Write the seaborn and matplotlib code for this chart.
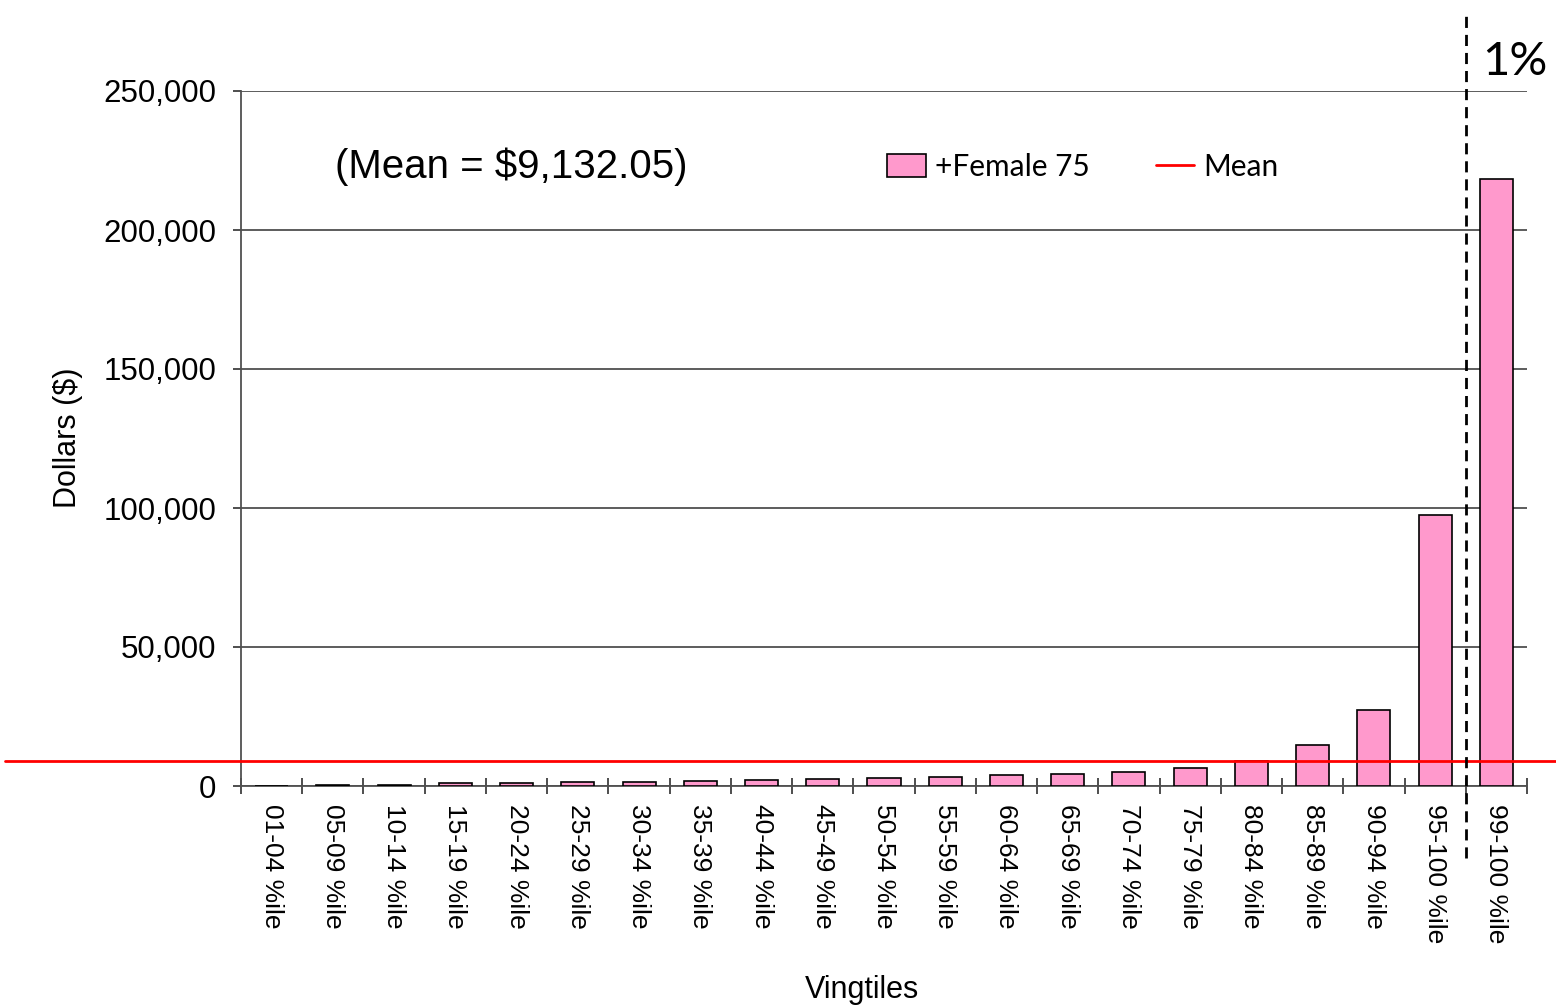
import matplotlib
matplotlib.use('Agg')
import matplotlib.pyplot as plt
import seaborn as sns
import pandas as pd
from matplotlib.patches import Patch
from matplotlib.lines import Line2D

# --- данные ---
vingtiles = ['01-04 %ile', '05-09 %ile', '10-14 %ile', '15-19 %ile', '20-24 %ile',
             '25-29 %ile', '30-34 %ile', '35-39 %ile', '40-44 %ile', '45-49 %ile',
             '50-54 %ile', '55-59 %ile', '60-64 %ile', '65-69 %ile', '70-74 %ile',
             '75-79 %ile', '80-84 %ile', '85-89 %ile', '90-94 %ile', '95-100 %ile',
             '99-100 %ile']
female75 = [100, 400, 500, 900, 1100, 1500, 1600, 1900, 2000, 2400,
            2800, 3200, 3800, 4200, 5000, 6400, 9000, 14800, 27200, 97500,
            218500]
mean_value = 9132.05
y_ticks = [0, 50000, 100000, 150000, 200000, 250000]

df = pd.DataFrame({'Vingtile': vingtiles, 'Dollars': female75})

sns.set_style('white')
plt.rcParams['font.family'] = ['Liberation Sans', 'DejaVu Sans']
plt.rcParams['text.color'] = 'black'
plt.rcParams['xtick.color'] = 'black'
plt.rcParams['ytick.color'] = 'black'
plt.rcParams['axes.labelcolor'] = 'black'

fig = plt.figure(figsize=(15.56, 10.08), dpi=100)
ax = fig.add_axes([241 / 1556, 222 / 1008, 1286 / 1556, 695 / 1008])

sns.barplot(data=df, x='Vingtile', y='Dollars', color='#FF99CC', saturation=1,
            edgecolor='black', linewidth=1.2, width=0.54, ax=ax, zorder=3)

ax.set_xlim(-0.5, len(vingtiles) - 0.5)
ax.set_ylim(0, 250000)
ax.set_yticks(y_ticks)
ax.set_yticklabels([f'{v:,}' for v in y_ticks], fontsize=22.5)
ax.yaxis.grid(True, color='#303030', linewidth=1.1, zorder=0)
ax.set_axisbelow(True)

# подписи по центрам, засечки на границах
ax.set_xticks(range(len(vingtiles)))
ax.set_xticklabels(vingtiles, rotation=-90, fontsize=19, va='top', ha='center')
ax.set_xticks([i - 0.5 for i in range(len(vingtiles) + 1)], minor=True)
ax.tick_params(axis='x', which='major', bottom=True, length=0, pad=13)
ax.tick_params(axis='x', which='minor', bottom=True, length=11, direction='inout',
               color='#404040', width=1.3)
ax.tick_params(axis='y', which='major', length=6, direction='out',
               color='#404040', width=1.3, pad=12, left=True)

for side in ['top', 'right']:
    ax.spines[side].set_visible(False)
for side in ['left', 'bottom']:
    ax.spines[side].set_color('#505050')
    ax.spines[side].set_linewidth(1.3)

ax.set_xlabel('')
ax.set_ylabel('')
fig.text(68 / 1556, 1 - 438 / 1008, 'Dollars ($)', rotation=90, fontsize=22,
         ha='center', va='center')
fig.text(862 / 1556, 1 - 990 / 1008, 'Vingtiles', fontsize=22,
         ha='center', va='center')

# линия среднего и граница 1%
ax.axhline(mean_value, xmin=-0.1835, xmax=1.023, color='red', linewidth=2,
           clip_on=False, zorder=5)
ax.axvline(19.5, ymin=-0.104, ymax=1.117, color='black', linewidth=2,
           linestyle=(0, (4, 2.5)), clip_on=False, zorder=6)

fig.text(1515 / 1556, 1 - 62 / 1008, '1%', fontsize=34, family=['Lato', 'DejaVu Sans'],
         ha='center', va='center')
fig.text(511 / 1556, 1 - 167 / 1008, '(Mean = $9,132.05)', fontsize=29,
         ha='center', va='center')

handles = [Patch(facecolor='#FF99CC', edgecolor='black', linewidth=1.2),
           Line2D([0], [0], color='red', linewidth=2)]
fig.legend(handles, ['+Female 75', 'Mean'], loc='center',
           bbox_to_anchor=(1083 / 1556, 1 - 167 / 1008), ncol=2, frameon=False,
           prop={'family': ['Lato', 'DejaVu Sans'], 'size': 21.5},
           handlelength=1.3, handleheight=0.8, handletextpad=0.3, columnspacing=2.2)

plt.savefig('out.png', dpi=100)
